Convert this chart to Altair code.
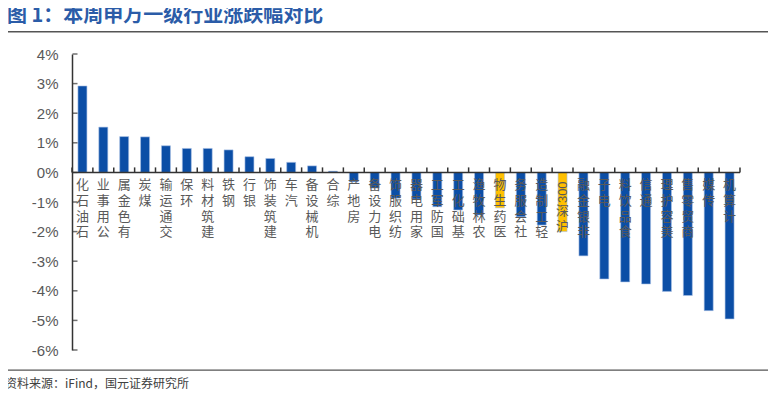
import altair as alt
import pandas as pd

categories = ["石油石化", "公用事业", "有色金属", "煤炭", "交通运输", "环保", "建筑材料", "钢铁",
              "银行", "建筑装饰", "汽车", "机械设备", "综合", "房地产", "电力设备", "纺织服饰",
              "家用电器", "国防军工", "基础化工", "农林牧渔", "医药生物", "社会服务", "轻工制造",
              "沪深300", "非银金融", "电子", "食品饮料", "通信", "美容护理", "商贸零售", "传媒", "计算机"]
changes = [2.92, 1.53, 1.21, 1.20, 0.90, 0.81, 0.81, 0.76, 0.53, 0.47, 0.34, 0.22, 0.04,
           -0.32, -0.53, -0.87, -0.90, -1.16, -1.27, -1.44, -1.20, -1.50, -1.78, -2.00,
           -2.82, -3.60, -3.70, -3.77, -4.02, -4.16, -4.67, -4.95]
highlight = ["医药生物", "沪深300"]
y_ticks = [-6, -5, -4, -3, -2, -1, 0, 1, 2, 3, 4]

title_text = "图 1：本周申万一级行业涨跌幅对比"
source_text = "资料来源：iFind，国元证券研究所"

W, H = 668, 296
Y_MIN, Y_MAX = -6, 4
px_per_unit = H / (Y_MAX - Y_MIN)
tick_len = 5 / px_per_unit  # 5px upward ticks on the zero line


def stacked(label):
    # vertical label read bottom-to-top with upright characters
    if label == "沪深300":
        return "深\n沪"
    return "\n".join(reversed(list(label)))


df = pd.DataFrame({
    "cat": categories,
    "val": changes,
    "hl": ["yes" if c in highlight else "no" for c in categories],
    "lab": [stacked(c) for c in categories],
})
df_main = df[df["cat"] != "沪深300"]
df_hs = df[df["cat"] == "沪深300"]

x_scale = alt.Scale(domain=categories, paddingInner=0, paddingOuter=0)
y_scale = alt.Scale(domain=[Y_MIN, Y_MAX], nice=False, zero=False)
y_axis = alt.Axis(values=y_ticks, labelExpr="datum.value + '%'", title=None,
                  ticks=False, grid=False, domainColor="#333333", domainWidth=1.5,
                  labelOverlap=False, labelFont="Liberation Sans", labelFontSize=15,
                  labelColor="#595959", labelPadding=14)


def yenc(**kw):
    return alt.Y(scale=y_scale, axis=y_axis, **kw)


bars = alt.Chart(df).mark_bar(size=9, stroke="#a9c1e6", strokeWidth=0.6).encode(
    x=alt.X("cat:N", scale=x_scale, axis=None),
    y=yenc(field="val", type="quantitative"),
    color=alt.Color("hl:N", scale=alt.Scale(domain=["no", "yes"], range=["#0b4ea6", "#ffc000"]),
                    legend=None),
)

zero_line = alt.Chart(pd.DataFrame({"a": [0]})).mark_rule(color="#333333", strokeWidth=1.5).encode(
    y=yenc(datum=0), x=alt.value(0), x2=alt.value(W))

xticks = alt.Chart(df).mark_rule(color="#333333", strokeWidth=1.5).encode(
    x=alt.X("cat:N", scale=x_scale, bandPosition=0, axis=None),
    y=yenc(datum=0), y2=alt.Y2(datum=tick_len),
)
xtick_end = alt.Chart(df.tail(1)).mark_rule(color="#333333", strokeWidth=1.5).encode(
    x=alt.X("cat:N", scale=x_scale, bandPosition=1, axis=None),
    y=yenc(datum=0), y2=alt.Y2(datum=tick_len),
)

labels = alt.Chart(df_main).mark_text(
    baseline="top", align="center", dy=7, lineBreak="\n", lineHeight=15.7,
    font="Noto Sans CJK SC", fontSize=13, color="#595959",
).encode(
    x=alt.X("cat:N", scale=x_scale, axis=None),
    y=yenc(datum=0),
    text="lab:N",
)

labels_hs = alt.Chart(df_hs).mark_text(
    baseline="top", align="center", dy=33, lineBreak="\n", lineHeight=15.7,
    font="Noto Sans CJK SC", fontSize=13, color="#595959",
).encode(
    x=alt.X("cat:N", scale=x_scale, axis=None),
    y=yenc(datum=0),
    text="lab:N",
)

hs300 = alt.Chart(pd.DataFrame({"cat": ["沪深300"], "t": ["300"]})).mark_text(
    angle=270, align="right", baseline="middle", dx=-9,
    font="Liberation Sans", fontSize=13, color="#595959",
).encode(
    x=alt.X("cat:N", scale=x_scale, axis=None),
    y=yenc(datum=0),
    text="t:N",
)

yticks = alt.Chart(pd.DataFrame({"v": y_ticks})).mark_tick(
    orient="horizontal", size=5, thickness=1.5, color="#333333"
).encode(
    y=yenc(field="v", type="quantitative"),
    x=alt.value(3),
)

title = alt.Chart(pd.DataFrame({"t": [title_text]})).mark_text(
    align="left", baseline="middle", font="Noto Sans CJK SC", fontSize=20,
    fontWeight="bold", color="#2b5ca8",
).encode(x=alt.value(-65), y=alt.value(-38), text="t:N")

source = alt.Chart(pd.DataFrame({"t": [source_text]})).mark_text(
    align="left", baseline="middle", font="Noto Sans CJK SC", fontSize=12,
    color="#404040",
).encode(x=alt.value(-67), y=alt.value(330), text="t:N")

top_line = alt.Chart(pd.DataFrame({"a": [0]})).mark_rect(color="#555555").encode(
    x=alt.value(-67), x2=alt.value(698), y=alt.value(-23), y2=alt.value(-21.5))
bottom_line = alt.Chart(pd.DataFrame({"a": [0]})).mark_rect(color="#555555").encode(
    x=alt.value(-67), x2=alt.value(698), y=alt.value(315.5), y2=alt.value(316.7))

chart = alt.layer(bars, zero_line, xticks, xtick_end, yticks, labels, labels_hs, hs300,
                  title, source, top_line, bottom_line).properties(
    width=W, height=H,
    autosize=alt.AutoSizeParams(type="none"),
    padding={"left": 64, "top": 46, "right": 28, "bottom": 41},
    background="white",
).configure_view(stroke=None)

chart.save("out.html", embed_options={"renderer": "svg", "actions": False})
